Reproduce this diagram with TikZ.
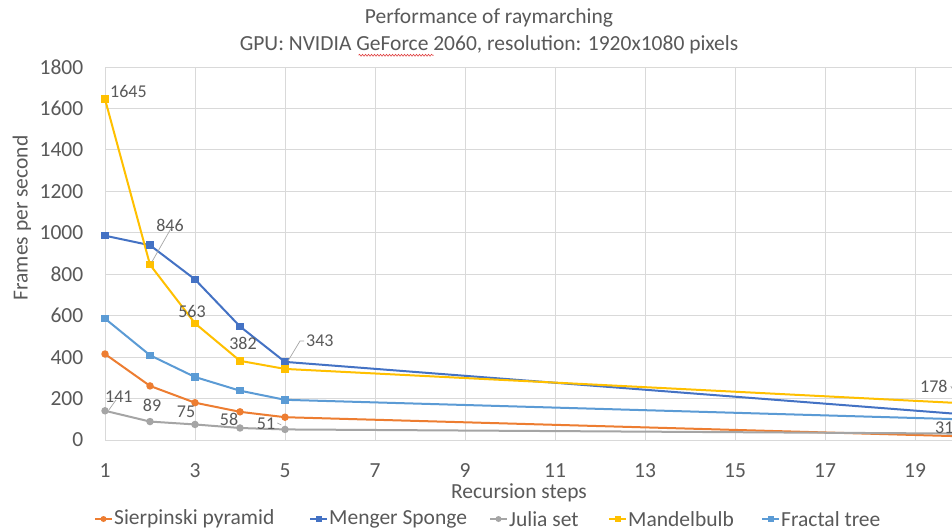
\documentclass[tikz,border=0pt]{standalone}
\usepackage{fontspec}
\setmainfont{Carlito}
\usetikzlibrary{calc,decorations.pathmorphing}

\definecolor{txt}{HTML}{595959}
\definecolor{gridc}{HTML}{D9D9D9}
\definecolor{leader}{HTML}{A6A6A6}
\definecolor{cSier}{HTML}{ED7D31}
\definecolor{cMeng}{HTML}{4472C4}
\definecolor{cJul}{HTML}{A5A5A5}
\definecolor{cMand}{HTML}{FFC000}
\definecolor{cTree}{HTML}{5B9BD5}
\definecolor{spellred}{HTML}{E04040}

\tikzset{
  lbl/.style={text=txt, font=\fontsize{21.5}{25}\selectfont, inner sep=0pt},
  dlbl/.style={text=txt, font=\fontsize{18}{21}\selectfont, inner sep=0pt},
  gridline/.style={draw=gridc, line width=1pt},
  series/.style={line width=2pt, line join=round},
  leaderline/.style={draw=leader, line width=0.7pt},
  sqmark/.style={rectangle, minimum size=7.5pt, inner sep=0pt, fill=#1},
  dotmark/.style={circle, minimum size=7.5pt, inner sep=0pt, fill=#1},
  squiggle/.style={draw=spellred, line width=0.6pt, decorate,
    decoration={snake, amplitude=0.9pt, segment length=3pt}},
}

\begin{document}
\begin{tikzpicture}[x=1pt, y=-1pt]
  \fill[white] (0,0) rectangle (952,532);
  \useasboundingbox (0,0) rectangle (952,532);
  \clip (0,0) rectangle (952,532);

  % title
  \node[lbl] (title1) at (489,18) {Performance of raymarching};
  \node[lbl] (title2) at (489,45) {GPU: NVIDIA GeForce 2060, resolution: 1920x1080 pixels};
  % spell-check underline below "GeForce"
  \draw[squiggle] ($(title2.base west)+(119,4.5)$) -- ($(title2.base west)+(194,4.5)$);

  % plot area in data coordinates: x = recursion step, y = frames per second
  \begin{scope}[shift={(60pt,-440pt)}, x=45pt, y=0.20722pt]
    % grid
    \foreach \v in {200,400,...,1800}
      \draw[gridline] (1,\v) -- (20.5,\v);
    \foreach \s in {1,3,...,19}
      \draw[gridline] (\s,0) -- (\s,1800);
    \draw[gridline] (1,0) -- (20.5,0);

    % tick labels
    \foreach \v in {0,200,...,1800}
      \node[lbl, anchor=east] (yt\v) at (0.52,\v) {\v};
    \foreach \s in {1,3,...,19}
      \node[lbl] (xt\s) at (\s,-146) {\s};

    % data points
    \foreach \n/\a/\b/\cc/\d/\e/\f in {
        S/415/261/180/136/110/18,
        M/986/940/775/548/377/125,
        J/141/89/75/58/51/31,
        B/1645/846/563/382/343/178,
        T/586/409/304/238/194/100} {
      \coordinate (\n1) at (1,\a);
      \coordinate (\n2) at (2,\b);
      \coordinate (\n3) at (3,\cc);
      \coordinate (\n4) at (4,\d);
      \coordinate (\n5) at (5,\e);
      \coordinate (\n20) at (20,\f);
    }
  \end{scope}

  % series lines
  \draw[series, cSier] (S1) -- (S2) -- (S3) -- (S4) -- (S5) -- (S20);
  \draw[series, cJul]  (J1) -- (J2) -- (J3) -- (J4) -- (J5) -- (J20);
  \draw[series, cTree] (T1) -- (T2) -- (T3) -- (T4) -- (T5) -- (T20);
  \draw[series, cMeng] (M1) -- (M2) -- (M3) -- (M4) -- (M5) -- (M20);
  \draw[series, cMand] (B1) -- (B2) -- (B3) -- (B4) -- (B5) -- (B20);

  % markers
  \foreach \i in {1,...,5} {
    \node[dotmark=cSier] at (S\i) {};
    \node[dotmark=cJul]  at (J\i) {};
    \node[sqmark=cTree]  at (T\i) {};
    \node[sqmark=cMeng]  at (M\i) {};
    \node[sqmark=cMand]  at (B\i) {};
  }

  % data labels of Mandelbulb
  \node[dlbl, anchor=west] (lb1) at (110,91) {1645};
  \node[dlbl] (lb2) at (170,225) {846};
  \node[dlbl] (lb3) at (192,311) {563};
  \node[dlbl] (lb4) at (243,343) {382};
  \node[dlbl, anchor=west] (lb5) at (306,341) {343};
  \node[dlbl, anchor=west] (lb20) at (920,386) {178};
  \draw[leaderline] ($(B2)+(2,-3)$) -- ($(lb2.south)+(1,-3)$);
  \draw[leaderline] ($(B5)+(3,-8)$) -- ($(lb5.west)+(-6,0)$) -- ($(lb5.west)+(-2,0)$);
  \draw[leaderline] ($(lb20.east)+(3,0)$) -- (B20);

  % data labels of Julia set
  \node[dlbl, anchor=west] (lj1) at (105,397) {141};
  \node[dlbl] (lj2) at (152,405) {89};
  \node[dlbl] (lj3) at (186,412) {75};
  \node[dlbl] (lj4) at (229,419) {58};
  \node[dlbl] (lj5) at (266,424) {51};
  \node[dlbl, anchor=west] (lj20) at (935,428) {31};
  \draw[leaderline] ($(J1)+(4,-1)$) -- ($(lj1.south west)+(11,-3)$);
  \draw[leaderline] ($(lj5.east)+(2,-1)$) -- ($(lj5.east)+(6,1)$);

  % axis titles
  \node[lbl] (xtitle) at (519,493) {Recursion steps};
  \node[lbl, rotate=90] (ytitle) at (22,218) {Frames per second};

  % legend
  \foreach \col/\x/\t/\m [count=\k] in {
      cSier/95/Sierpinski pyramid/dotmark,
      cMeng/310/Menger Sponge/sqmark,
      cJul/490/Julia set/dotmark,
      cMand/609/Mandelbulb/sqmark,
      cTree/762/Fractal tree/sqmark} {
    \coordinate (lg\k a) at (\x,519);
    \coordinate (lg\k b) at (\x+17,519);
    \draw[line width=2pt, \col] (lg\k a) -- (lg\k b);
    \node[\m=\col, minimum size=6pt] (lgm\k) at ($(lg\k a)!0.5!(lg\k b)$) {};
    \node[lbl, anchor=west] (lgt\k) at (\x+19,519) {\t};
  }
\end{tikzpicture}
\end{document}
